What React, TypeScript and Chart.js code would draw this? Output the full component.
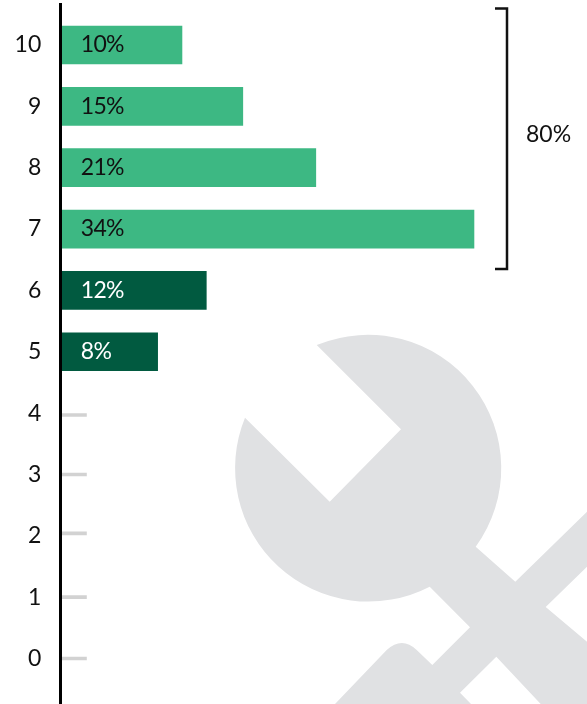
import React, { useEffect, useRef } from "react";
import { Chart, registerables } from "chart.js";

Chart.register(...registerables);

// Share of responses per score
const scores = [10, 9, 8, 7, 6, 5, 4, 3, 2, 1, 0];
const shares = [10, 15, 21, 34, 12, 8, 0, 0, 0, 0, 0];
const barColors = ["#3DB883", "#3DB883", "#3DB883", "#3DB883", "#015A40", "#015A40"];
const labelColors = ["#111111", "#111111", "#111111", "#111111", "#FFFFFF", "#FFFFFF"];

// Short placeholder stubs for the scores nobody picked
const stubRows = [3.97, 3, 2.04, 1, 0];
const stubLengths = [2.15, 2.15, 2.15, 2.15, 2.15];

// Scores covered by the bracket on the right
const bracketScores = [10, 9, 8, 7];

const FONT = "Lato, 'Open Sans', sans-serif";
const WRENCH =
  "M316.7 345 A133.4 133.4 0 0 1 475.7 546.7 L515.3 581.7 L587 511.7 L587 566.7 L545.7 607 L587 641.7 L587 704 " +
  "L540.7 704 L496.3 656.7 L460 692.7 L471 704 L335 704 L386.7 650 Q402 636 416.7 650 L432.3 665 L470 627.3 " +
  "L429.7 586.7 A133.4 133.4 0 0 1 245 417.7 L329.7 501.7 L401 429.3 Z";

const wrenchBackdrop = {
  id: "wrenchBackdrop",
  beforeDraw(chart: any) {
    const { ctx } = chart;
    ctx.save();
    ctx.fillStyle = "#E0E1E3";
    ctx.fill(new Path2D(WRENCH));
    ctx.restore();
  },
};

const barAnnotations = {
  id: "barAnnotations",
  afterDraw(chart: any) {
    const { ctx, scales } = chart;
    const { x, y } = scales;
    ctx.save();
    ctx.font = `23px ${FONT}`;
    ctx.textBaseline = "middle";
    ctx.textAlign = "left";

    // Percentage inside each bar
    ctx.letterSpacing = "-0.7px";
    shares.forEach((share, i) => {
      if (share <= 0) return;
      ctx.fillStyle = labelColors[i];
      ctx.fillText(`${share}%`, x.getPixelForValue(0) + 20.5, y.getPixelForValue(scores[i]));
    });
    ctx.letterSpacing = "0px";

    // Bracket around the top scores, with their combined share
    const top = y.getPixelForValue(bracketScores[0]) - 36.5;
    const bottom = y.getPixelForValue(bracketScores[bracketScores.length - 1]) + 40;
    ctx.strokeStyle = "#111111";
    ctx.lineWidth = 2.5;
    ctx.beginPath();
    ctx.moveTo(495, top);
    ctx.lineTo(507, top);
    ctx.lineTo(507, bottom);
    ctx.lineTo(495, bottom);
    ctx.stroke();

    const total = bracketScores.reduce((sum, s) => sum + shares[scores.indexOf(s)], 0);
    ctx.fillStyle = "#111111";
    ctx.fillText(`${total}%`, 526, (top + bottom) / 2 - 4);
    ctx.restore();
  },
};

export default function App() {
  const canvasRef = useRef<HTMLCanvasElement>(null);

  useEffect(() => {
    const chart = new Chart(canvasRef.current!, {
      type: "bar",
      data: {
        datasets: [
          {
            data: scores.slice(0, barColors.length).map((s, i) => ({ x: shares[i], y: s })),
            backgroundColor: barColors,
            barThickness: 38,
            borderWidth: 0,
          },
          {
            data: stubRows.map((r, i) => ({ x: stubLengths[i], y: r })),
            backgroundColor: "#D2D2D2",
            barThickness: 3,
            borderWidth: 0,
          },
        ],
      },
      options: {
        indexAxis: "y",
        responsive: false,
        animation: false,
        layout: { padding: { top: 4 } },
        plugins: { legend: { display: false }, tooltip: { enabled: false } },
        datasets: { bar: { grouped: false } },
        scales: {
          x: { type: "linear", display: false, min: 0, max: 43.29 },
          y: {
            type: "linear",
            offset: false,
            min: -0.741,
            max: 10.668,
            afterFit(scale: any) {
              scale.width = 60.3;
              scale.paddingTop = 0;
              scale.paddingBottom = 0;
            },
            afterBuildTicks(scale: any) {
              scale.ticks = [...scores].reverse().map((value) => ({ value }));
            },
            ticks: {
              stepSize: 1,
              includeBounds: false,
              autoSkip: false,
              padding: 19,
              color: "#111111",
              font: { family: FONT, size: 23 },
            },
            grid: {
              offset: false,
              drawOnChartArea: false,
              drawTicks: false,
            },
            border: { display: true, color: "#000000", width: 3, z: 2 },
          },
        },
      },
      plugins: [wrenchBackdrop, barAnnotations],
    } as any);
    return () => chart.destroy();
  }, []);

  return (
    <div style={{ position: "fixed", left: 0, top: 0, width: 587, height: 704, background: "#FFFFFF" }}>
      <canvas ref={canvasRef} width={587} height={704} style={{ display: "block" }} />
    </div>
  );
}
